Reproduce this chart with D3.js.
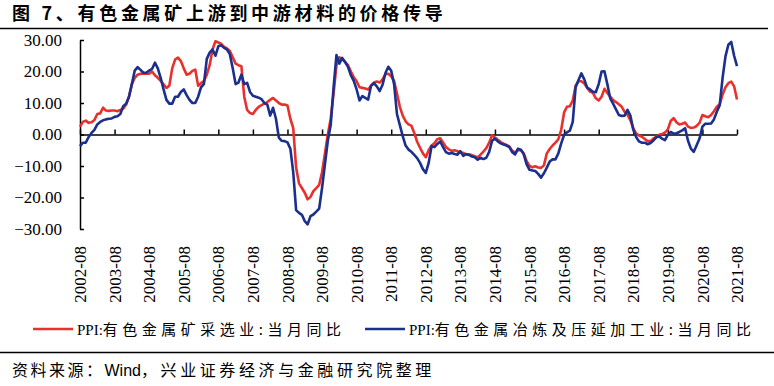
<!DOCTYPE html>
<html>
<head>
<meta charset="utf-8">
<script src="https://cdn.jsdelivr.net/npm/d3@7/dist/d3.min.js"></script>
<style>
  body { margin: 0; background: #fff; }
  svg { display: block; }
</style>
</head>
<body>
<div id="chart"></div>
<script>
// monthly, 2002-08 .. 2021-08
var tickLabels = ["2002-08","2003-08","2004-08","2005-08","2006-08","2007-08","2008-08","2009-08","2010-08","2011-08",
                  "2012-08","2013-08","2014-08","2015-08","2016-08","2017-08","2018-08","2019-08","2020-08","2021-08"];
var yTicks = [30, 20, 10, 0, -10, -20, -30];
var seriesNames = ["PPI:有色金属矿采选业:当月同比", "PPI:有色金属冶炼及压延加工业:当月同比"];

var miningPPI = [
  2.5, 4.0, 4.4, 3.7, 3.9, 4.6, 6.5, 6.7, 8.5, 7.6, 7.5, 7.6,
  7.6, 7.4, 7.8, 8.2, 9.5, 12, 16, 18, 19, 19.3, 19.3, 19.3,
  19.3, 20, 18.8, 18, 17, 15.9, 14.8, 15.5, 21, 23.8, 24.4, 23.3,
  21, 19, 19.3, 20.2, 20.6, 15.5, 16.3, 17, 19, 22, 27, 29.6,
  29.2, 28.8, 27.8, 27.3, 26.5, 24.5, 22.5, 22, 21.7, 12, 7.8, 6.8,
  6.5, 7.8, 8.8, 9.3, 9.8, 10.3, 11, 11.6, 10.8, 10, 9.5, 9.5,
  9.2, 5, 2, -10.5, -15.5, -17, -18.5, -20.6, -19.8, -18, -17, -16,
  -12, -6, 0, 5, 13, 22, 24.5, 24, 23, 22, 20, 18.2,
  16.9, 15, 14.8, 14.6, 14.3, 15.5, 16.5, 16.8, 16.5, 17.5, 19.2, 19.3,
  18.5, 17, 13, 8.8, 6, 4.2, 3.2, 2.8, 0.5, -2.3, -4.2, -6,
  -7.2, -5, -3.5, -2.8, -1.5, -1.2, -2.5, -4, -4.7, -5.2, -5, -5.3,
  -5.8, -5.8, -6.3, -6.3, -6.6, -6.9, -7.3, -6.4, -5.4, -4.3, -2.6, -0.2,
  -1, -1.7, -2.4, -2.9, -3.3, -3.8, -5.2, -5.7, -5, -5, -6, -8.5,
  -10, -10.4, -10.1, -10.5, -10.6, -9.8, -6, -4.6, -3.5, -2.6, -1.5, 1.5,
  7, 8.8, 9, 10.8, 15.5, 16.9, 16.9, 16.2, 14.8, 13.6, 13.2, 11.5,
  10.8, 12, 14.5, 13.2, 12, 10.9, 10.3, 9.6, 8.8, 7.2, 6.3, 4.5,
  2, 0.3, -0.3, -0.7, -1.4, -2.1, -2.1, -1.3, -0.7, -0.1, 0.2, 0.6,
  1.6, 4.3, 5.2, 3.9, 3.2, 3.4, 3.8, 2.5, 2.1, 2.2, 2.7, 3.7,
  6.2, 5.8, 5.5, 6.2, 7.4, 8.8, 9.6, 12.7, 15, 16.3, 16.8, 15.3, 11.1
];

var smeltingPPI = [
  -3.7, -2.6, -2.6, -0.8, 0.5, 1.5, 3.2, 4.0, 4.5, 4.8, 5.0, 5.1,
  5.6, 5.8, 6.5, 9.0, 9.8, 12, 16, 20.3, 21.4, 20.5, 19.6, 19.6,
  20.3, 20.8, 22.8, 21, 18, 14.3, 11, 9.8, 9.8, 12, 12, 13.5,
  14.3, 12.5, 11, 10, 10, 12, 15, 16, 24, 26, 27, 25,
  28, 28.3, 27.5, 27, 25.5, 21, 16, 16.5, 19, 16, 16.4, 13.5,
  12.3, 12, 11.7, 11.2, 10, 9.5, 6, 8.5, 5, -1, -2, -2.1,
  -2.5, -4.5, -12, -24, -24.9, -25.5, -27.5, -28.5, -25.9, -25.4, -24.5, -23.5,
  -17, -9.5, -2, 3, 15, 25.2, 22.5, 24.3, 23, 21.5, 18.8, 17,
  14.3, 10.8, 12.2, 11.6, 11.1, 15.5, 16.3, 15.3, 13.8, 15.8, 19.5, 21.5,
  20.2, 16, 6.5, 3, -0.5, -3.5, -4.8, -5.5, -6.5, -7.5, -9, -11,
  -12.2, -9, -3.7, -4, -3, -2.2, -4, -5.6, -6.1, -5.9, -6.2, -6.4,
  -5.3, -6.8, -6.2, -6.5, -7, -7.2, -8, -7.4, -7.8, -7.4, -5.5, -2,
  -1.3, -2.2, -2.8, -3.2, -3.5, -4, -5.6, -6.3, -4.5, -4.8, -6.3, -9.5,
  -11.2, -11.4, -11.6, -12.5, -13.7, -12.3, -10.5, -8.6, -7.9, -7.9, -6, -2.8,
  -0.1, 0.7, 1.2, 4, 15, 17.3, 19.4, 17.5, 14.9, 14.3, 13.6, 13.4,
  16, 20, 20.1, 16, 11.5, 9.8, 8, 6.2, 5.9, 6, 7.8, 6,
  1.5, -0.8, -2.2, -2.6, -2.6, -3.1, -2.7, -1.9, -0.9, -0.6, -1.3, -1.8,
  -0.1, 0.8, 0.3, 0.4, 0.8, 1.3, 2, -2, -4.5, -5.5, -3.4, -1.3,
  2.5, 3.4, 3.4, 3.5, 4.8, 7.2, 9.3, 18, 24.8, 28.5, 29.4, 25, 21.7
];

var width = 774, height = 386;
var serif = "'Liberation Serif','Times New Roman',serif";
var cjk = "'Noto Sans CJK SC','Noto Sans',sans-serif";

var svg = d3.select("#chart").append("svg")
    .attr("width", width)
    .attr("height", height)

// title + rules
svg.append("text")
    .attr("x", 12).attr("y", 20)
    .attr("font-family", cjk)
    .attr("font-weight", "bold")
    .attr("font-size", 18)
    .attr("letter-spacing", 3.7)
    .attr("fill", "#000")
    .text("图 7、有色金属矿上游到中游材料的价格传导")

svg.append("line").attr("x1", 0).attr("x2", 768).attr("y1", 28.5).attr("y2", 28.5)
    .attr("stroke", "#000").attr("stroke-width", 1.5)
svg.append("line").attr("x1", 0).attr("x2", 774).attr("y1", 352.5).attr("y2", 352.5)
    .attr("stroke", "#000").attr("stroke-width", 1.5)

var src = svg.append("text")
    .attr("x", 12).attr("y", 376)
    .attr("font-family", cjk)
    .attr("font-size", 16)
    .attr("fill", "#000")
src.append("tspan").attr("letter-spacing", 2.5).text("资料来源：")
src.append("tspan").attr("font-family", "'Liberation Sans',Arial,sans-serif").text("Wind")
src.append("tspan").attr("letter-spacing", 3.6).text("，兴业证券经济与金融研究院整理")

var n = miningPPI.length;
var x = d3.scaleLinear().domain([0, n - 1]).range([80, 737]);
var y = d3.scaleLinear().domain([-30, 30]).range([229, 40]);

// y axis, ticks pointing inward
var yAxis = svg.append("g")
    .attr("transform", "translate(80,0)")
    .call(d3.axisLeft(y).tickValues(yTicks).tickSizeInner(-4).tickSizeOuter(0).tickPadding(18)
        .tickFormat(d3.format(".2f")))
yAxis.select(".domain").attr("stroke-width", 1.5)
yAxis.selectAll(".tick line").attr("stroke-width", 1.5)
yAxis.selectAll("text")
    .attr("font-family", serif)
    .attr("font-size", 17)
    .attr("fill", "#000")

// zero line with upward ticks
var tickIdx = tickLabels.map(function(d, i){ return i * 12; });
var xAxis = svg.append("g")
    .attr("transform", "translate(0," + y(0) + ")")
    .call(d3.axisBottom(x).tickValues(tickIdx).tickSizeInner(-5).tickSizeOuter(0).tickFormat(""))
xAxis.select(".domain").attr("stroke-width", 1.5)
xAxis.selectAll(".tick line").attr("stroke-width", 1.5)

// rotated date labels at the bottom
var xLab = svg.append("g")
    .attr("transform", "translate(0,229)")
    .call(d3.axisBottom(x).tickValues(tickIdx).tickSize(0)
        .tickFormat(function(d, i){ return tickLabels[i]; }))
xLab.select(".domain").remove()
xLab.selectAll("text")
    .attr("font-family", serif)
    .attr("font-size", 17)
    .attr("fill", "#000")
    .attr("text-anchor", "end")
    .attr("transform", "translate(0,17) rotate(-90)")
    .attr("x", 0).attr("y", 0).attr("dy", "0.33em")

var line = d3.line()
    .x(function(d, i){ return x(i); })
    .y(function(d){ return y(d); })

var colors = ["#e8302c", "#1b2f8e"];
[miningPPI, smeltingPPI].forEach(function(s, k){
    svg.append("path")
        .datum(s)
        .attr("d", line)
        .attr("fill", "none")
        .attr("stroke", colors[k])
        .attr("stroke-width", 2.6)
        .attr("stroke-linejoin", "round")
})

// legend
var legX = [33, 365];
seriesNames.forEach(function(name, k){
    var g = svg.append("g").attr("transform", "translate(" + legX[k] + ",329)")
    g.append("line").attr("x1", 0).attr("x2", 40).attr("y1", 0).attr("y2", 0)
        .attr("stroke", colors[k]).attr("stroke-width", 2.6)
    var t = g.append("text").attr("x", 44).attr("y", 5.5)
        .attr("font-size", 15).attr("fill", "#000")
    t.append("tspan").attr("font-family", serif).text("PPI:")
    t.append("tspan").attr("font-family", cjk).attr("letter-spacing", 4.5).text(name.slice(4))
})
</script>
</body>
</html>
